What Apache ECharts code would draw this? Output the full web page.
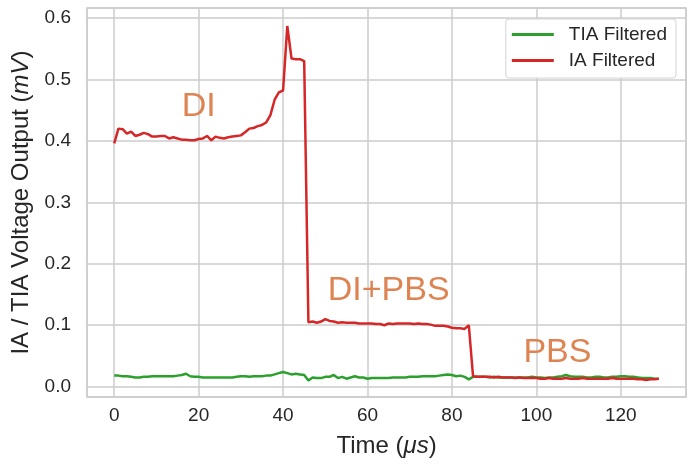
<!DOCTYPE html>
<html>
<head>
<meta charset="utf-8">
<script src="https://cdn.jsdelivr.net/npm/echarts@6/dist/echarts.min.js"></script>
<style>
  html, body { margin: 0; padding: 0; background: #fff; }
  #main { width: 695px; height: 464px; }
</style>
</head>
<body>
<div id="main"></div>
<script>
// time in microseconds, one sample per us
var timeUs = [];
for (var t = 0; t <= 129; t++) timeUs.push(t);

// IA Filtered (mV)
var iaFiltered = [
  0.396, 0.420, 0.419, 0.412, 0.415, 0.408, 0.410, 0.413, 0.411, 0.407,
  0.407, 0.408, 0.408, 0.404, 0.406, 0.404, 0.402, 0.402, 0.401, 0.401,
  0.403, 0.404, 0.408, 0.401, 0.407, 0.405, 0.404, 0.406, 0.407, 0.408,
  0.409, 0.414, 0.420, 0.421, 0.424, 0.426, 0.430, 0.442, 0.467, 0.479,
  0.482, 0.587, 0.534, 0.533, 0.533, 0.530, 0.105, 0.106, 0.104, 0.106,
  0.110, 0.107, 0.106, 0.104, 0.105, 0.104, 0.104, 0.104, 0.103, 0.103,
  0.103, 0.103, 0.102, 0.102, 0.100, 0.103, 0.102, 0.103, 0.103, 0.103,
  0.103, 0.102, 0.103, 0.102, 0.102, 0.101, 0.099, 0.099, 0.099, 0.098,
  0.096, 0.095, 0.095, 0.094, 0.100, 0.017, 0.016, 0.016, 0.016, 0.016,
  0.015, 0.016, 0.015, 0.015, 0.015, 0.014, 0.015, 0.014, 0.014, 0.014,
  0.014, 0.013, 0.013, 0.014, 0.013, 0.013, 0.013, 0.014, 0.013, 0.013,
  0.013, 0.014, 0.013, 0.013, 0.013, 0.013, 0.013, 0.013, 0.014, 0.013,
  0.013, 0.013, 0.013, 0.013, 0.012, 0.012, 0.011, 0.012, 0.012, 0.013
];

// TIA Filtered (mV)
var tiaFiltered = [
  0.018, 0.018, 0.017, 0.017, 0.016, 0.015, 0.015, 0.016, 0.016, 0.017,
  0.017, 0.017, 0.017, 0.017, 0.017, 0.018, 0.019, 0.021, 0.017, 0.016,
  0.016, 0.015, 0.015, 0.015, 0.015, 0.015, 0.015, 0.015, 0.015, 0.016,
  0.017, 0.017, 0.016, 0.017, 0.017, 0.017, 0.018, 0.018, 0.020, 0.022,
  0.024, 0.022, 0.020, 0.021, 0.020, 0.019, 0.010, 0.015, 0.014, 0.014,
  0.016, 0.016, 0.019, 0.014, 0.016, 0.013, 0.015, 0.017, 0.015, 0.015,
  0.013, 0.014, 0.014, 0.014, 0.014, 0.014, 0.015, 0.015, 0.015, 0.015,
  0.016, 0.016, 0.016, 0.017, 0.017, 0.017, 0.017, 0.018, 0.019, 0.020,
  0.019, 0.017, 0.018, 0.016, 0.012, 0.016, 0.016, 0.016, 0.016, 0.015,
  0.016, 0.015, 0.015, 0.015, 0.015, 0.015, 0.015, 0.015, 0.015, 0.016,
  0.015, 0.015, 0.014, 0.015, 0.015, 0.016, 0.017, 0.019, 0.017, 0.016,
  0.016, 0.016, 0.015, 0.015, 0.016, 0.016, 0.015, 0.015, 0.016, 0.016,
  0.017, 0.017, 0.016, 0.016, 0.015, 0.014, 0.014, 0.014, 0.013, 0.013
];

// region labels [text, time, value] (text centre)
var regionLabels = [
  ["DI", 20, 0.455],
  ["DI+PBS", 65, 0.156],
  ["PBS", 105, 0.056]
];

function pairs(xs, ys) {
  return xs.map(function (x, i) { return [x, ys[i]]; });
}

var FONT = "Liberation Sans";
var TEXT = "#262626";
var GRID = "#cccccc";

var chart = echarts.init(document.getElementById("main"));
chart.setOption({
  animation: false,
  textStyle: { fontFamily: FONT },
  grid: {
    left: 87, right: 9, top: 8, bottom: 67,
    show: true, borderColor: GRID, borderWidth: 1.5
  },
  legend: {
    orient: "vertical",
    right: 19, top: 19,
    itemWidth: 42, itemHeight: 3, itemGap: 7,
    icon: "rect",
    padding: [6, 9, 8, 6],
    borderColor: "#d4d4d4", borderWidth: 1, borderRadius: 3,
    backgroundColor: "#fff",
    textStyle: { fontFamily: FONT, fontSize: 19, color: TEXT, padding: [0, 0, 0, 10] },
    data: ["TIA Filtered", "IA Filtered"]
  },
  xAxis: {
    type: "value",
    min: -6.45, max: 135.45,
    splitNumber: 7,
    axisLine: { show: false },
    axisTick: { show: false },
    splitLine: { lineStyle: { color: GRID, width: 1.5 } },
    axisLabel: {
      showMinLabel: false, showMaxLabel: false,
      fontSize: 19, color: TEXT, margin: 9
    },
    name: "Time ({i|μs})",
    nameLocation: "middle",
    nameGap: 37,
    nameTextStyle: {
      fontSize: 24, color: TEXT,
      rich: { i: { fontStyle: "italic", fontSize: 24, color: TEXT } }
    }
  },
  yAxis: {
    type: "value",
    min: -0.0168, max: 0.6163,
    splitNumber: 6,
    axisLine: { show: false },
    axisTick: { show: false },
    splitLine: { lineStyle: { color: GRID, width: 1.5 } },
    axisLabel: {
      showMinLabel: false, showMaxLabel: false,
      fontSize: 19, color: TEXT, margin: 16,
      formatter: function (v) { return v.toFixed(1); }
    },
    name: "IA / TIA Voltage Output ({i|mV})",
    nameLocation: "middle",
    nameGap: 53,
    nameTextStyle: {
      fontSize: 24, color: TEXT,
      rich: { i: { fontStyle: "italic", fontSize: 24, color: TEXT } }
    }
  },
  series: [
    {
      name: "TIA Filtered",
      type: "line",
      data: pairs(timeUs, tiaFiltered),
      showSymbol: false,
      color: "#2ca02c",
      lineStyle: { width: 2.5, color: "#2ca02c" },
      z: 3
    },
    {
      name: "IA Filtered",
      type: "line",
      data: pairs(timeUs, iaFiltered),
      showSymbol: false,
      color: "#d62728",
      lineStyle: { width: 2.5, color: "#d62728" },
      z: 4
    },
    {
      name: "labels",
      type: "scatter",
      symbolSize: 0,
      silent: true,
      z: 5,
      itemStyle: { opacity: 1 },
      data: regionLabels.map(function (r) { return { name: r[0], value: [r[1], r[2]] }; }),
      label: {
        show: true,
        position: [0, 0],
        align: "center",
        verticalAlign: "middle",
        formatter: "{b}",
        fontFamily: FONT,
        fontSize: 34,
        opacity: 1,
        color: "#dd8452"
      }
    }
  ]
});
</script>
</body>
</html>
